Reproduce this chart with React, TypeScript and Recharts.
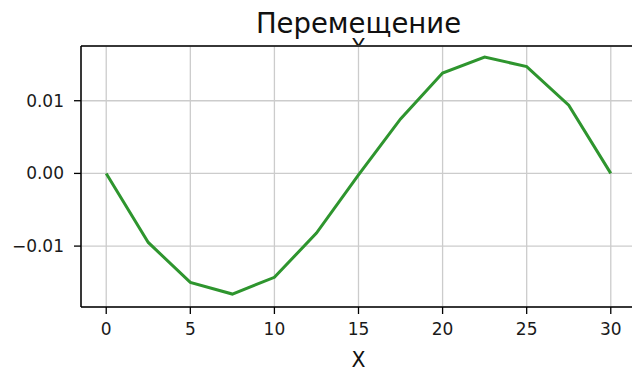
import { LineChart, Line, XAxis, YAxis, CartesianGrid, ReferenceLine } from 'recharts';

const xValues = [0, 2.5, 5, 7.5, 10, 12.5, 15, 17.5, 20, 22.5, 25, 27.5, 30];
const displacement = [0, -0.0095, -0.015, -0.0166, -0.0143, -0.0082, -0.0002, 0.0075, 0.0138, 0.016, 0.0147, 0.0094, 0];
const xTicks = [0, 5, 10, 15, 20, 25, 30];
const yTicks = [-0.01, 0, 0.01];

const titleText = 'Перемещение';
const xLabel = 'X';
const yLabel = 'Y';

const data = xValues.map((x, i) => ({ x, y: displacement[i] }));

const font = '"DejaVu Sans", sans-serif';
const yMin = -0.01838;
const yMax = 0.01753;

export default function App() {
  return (
    <div style={{ position: 'absolute', left: 0, top: 0, width: 632, height: 372, overflow: 'hidden', background: 'white' }}>
      <LineChart
        width={640}
        height={372}
        data={data}
        margin={{ top: 46, right: 4, bottom: 0, left: 0 }}
      >
        <CartesianGrid stroke="#cccccc" strokeWidth={1.3} />
        <XAxis
          dataKey="x"
          type="number"
          domain={[-1.5, 31.5]}
          ticks={xTicks}
          height={65}
          tickSize={7}
          tickMargin={9}
          stroke="#000"
          axisLine={{ stroke: '#000', strokeWidth: 1.5 }}
          tickLine={{ stroke: '#000', strokeWidth: 1.3 }}
          tick={{ fill: '#1a1a1a', fontSize: 17, fontFamily: font }}
        />
        <YAxis
          type="number"
          domain={[yMin, yMax]}
          ticks={yTicks}
          width={81}
          tickSize={7}
          tickMargin={10}
          tickFormatter={(v: number) => (v < 0 ? '\u2212' : '') + Math.abs(v).toFixed(2)}
          axisLine={{ stroke: '#000', strokeWidth: 1.5 }}
          tickLine={{ stroke: '#000', strokeWidth: 1.3 }}
          tick={{ fill: '#1a1a1a', fontSize: 17, fontFamily: font }}
        />
        <ReferenceLine y={yMax} stroke="#000" strokeWidth={1.5} />
        <Line
          type="linear"
          dataKey="y"
          stroke="#2e952e"
          strokeWidth={3}
          dot={false}
          isAnimationActive={false}
        />
      </LineChart>
      <svg
        width={632}
        height={372}
        style={{ position: 'absolute', left: 0, top: 0, pointerEvents: 'none' }}
      >
        <defs>
          <clipPath id="ylabel-clip">
            <rect x={0} y={0} width={632} height={45} />
          </clipPath>
        </defs>
        <text x={358.5} y={33} textAnchor="middle" fontSize={27.5} fontFamily={font} fill="#111">
          {titleText}
        </text>
        <text x={358.5} y={54} textAnchor="middle" fontSize={20.4} fontFamily={font} fill="#111" clipPath="url(#ylabel-clip)">
          {yLabel}
        </text>
        <text x={358.5} y={367} textAnchor="middle" fontSize={20.4} fontFamily={font} fill="#111">
          {xLabel}
        </text>
      </svg>
    </div>
  );
}
